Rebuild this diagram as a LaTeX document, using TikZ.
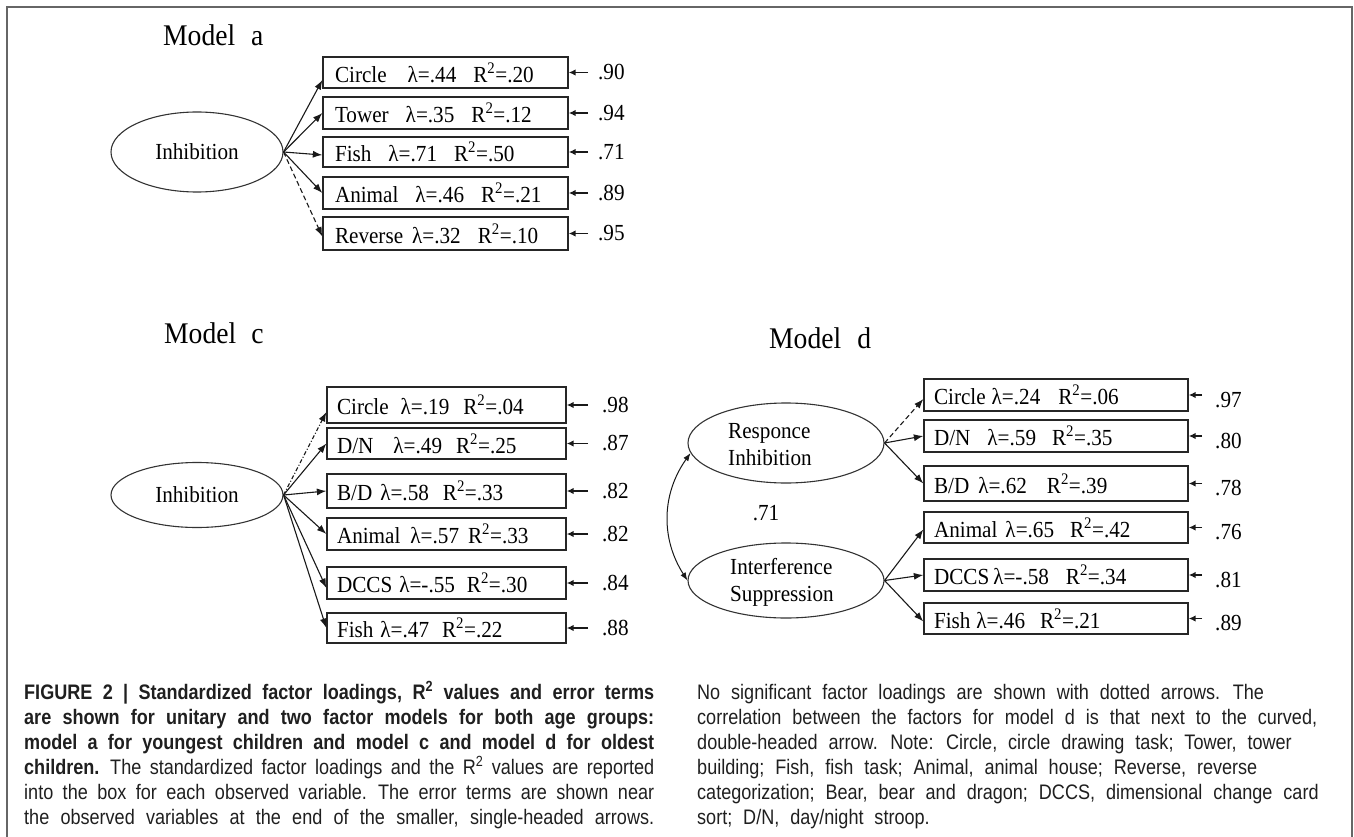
\documentclass[tikz,border=0pt]{standalone}
\usepackage{fontspec}
\setmainfont[FakeStretch=0.92]{Liberation Serif}
\newfontfamily\capfont[FakeStretch=0.86]{Liberation Sans}
\usetikzlibrary{arrows.meta,shapes.geometric}
\newcommand\gapx[1]{\hspace{#1pt}}
\newcommand\Rsq{R\textsuperscript{2}}
\begin{document}
\begin{tikzpicture}[x=1pt,y=-1pt,
  dtext/.style={font=\fontsize{23}{26}\selectfont},
  obs/.style={draw=black!85, line width=1.3pt, rectangle, inner ysep=0pt,
    dtext, align=left},
  obsa/.style={obs, text width=221pt, inner xsep=12pt},
  obsc/.style={obs, text width=219pt, inner xsep=10pt},
  obsd/.style={obs, text width=244pt, inner xsep=10pt},
  lat/.style={draw=black!80, line width=1.1pt, ellipse, inner sep=0pt, dtext},
  lattxt/.style={font=\fontsize{23}{27}\selectfont, align=left, inner sep=0pt},
  load/.style={-{Latex[length=9.5pt,width=7pt]}, line width=1.1pt, black!90},
  nsload/.style={load, dash pattern=on 5pt off 3pt},
  nsloadc/.style={load, dash pattern=on 4pt off 2pt on 1pt off 2pt},
  err/.style={-{Latex[length=7pt,width=6.5pt]}, line width=1.6pt, black!90},
  errlab/.style={dtext, anchor=west, inner ysep=0pt},
  ttl/.style={font=\fontsize{30}{34}\selectfont, anchor=base west, inner sep=0pt},
  dbl/.style={{Latex[length=8pt,width=6pt]}-{Latex[length=8pt,width=6pt]}, line width=1pt, black!90}
]
\useasboundingbox (0,0) rectangle (1354,837);
% frame
\draw[black!60, line width=2pt] (6.5,837) -- (6.5,7.5) -- (1352,7.5) -- (1352,837);

% ---------- Model a ----------
\node[ttl] (ta) at (163,46) {Model\gapx{16}a};
\node[lat, minimum width=172pt, minimum height=80pt] (fa) at (197,152) {Inhibition};
\node[obsa, minimum height=31pt] (a1) at (445.5,72.5) {Circle\gapx{21}λ=.44\gapx{17}\Rsq=.20};
\node[obsa, minimum height=32pt] (a2) at (445.5,113) {Tower\gapx{17}λ=.35\gapx{17}\Rsq=.12};
\node[obsa, minimum height=30pt] (a3) at (445.5,152) {Fish\gapx{17}λ=.71\gapx{17}\Rsq=.50};
\node[obsa, minimum height=32pt] (a4) at (445.5,193) {Animal\gapx{17}λ=.46\gapx{17}\Rsq=.21};
\node[obsa, minimum height=33pt] (a5) at (445.5,233.5) {Reverse\gapx{9}λ=.32\gapx{17}\Rsq=.10};
\draw[load] (fa.east) -- ([yshift=-7.5pt]a1.west);
\draw[load] (fa.east) -- (a2.west);
\draw[load] (fa.east) -- ([yshift=-3pt]a3.west);
\draw[load] (fa.east) -- (a4.west);
\draw[nsload] (fa.east) -- ([yshift=-3pt]a5.west);
\foreach \n/\v in {1/.90,2/.94,3/.71,4/.89,5/.95}{
  \node[errlab, inner xsep=10pt] (ea\n) at (588,0 |- a\n.east) {\v};
  \draw[err] (ea\n.west) -- (a\n.east);
}

% ---------- Model c ----------
\node[ttl] (tc) at (164,343) {Model\gapx{15}c};
\node[lat, minimum width=172pt, minimum height=65pt] (fc) at (197,495) {Inhibition};
\node[obsc, minimum height=36pt] (c1) at (446.5,405) {Circle\gapx{12}λ=.19\gapx{14}\Rsq=.04};
\node[obsc, minimum height=31pt] (c2) at (446.5,443.5) {D/N\gapx{20}λ=.49\gapx{14}\Rsq=.25};
\node[obsc, minimum height=34pt] (c3) at (446.5,491) {B/D\gapx{8}λ=.58\gapx{14}\Rsq=.33};
\node[obsc, minimum height=32pt] (c4) at (446.5,534) {Animal\gapx{10}λ=.57\gapx{9}\Rsq=.33};
\node[obsc, minimum height=32pt] (c5) at (446.5,583) {DCCS\gapx{7}λ=-.55\gapx{12}\Rsq=.30};
\node[obsc, minimum height=30pt] (c6) at (446.5,628) {Fish\gapx{7}λ=.47\gapx{13}\Rsq=.22};
\draw[nsloadc] (fc.east) -- ([yshift=-7pt]c1.west);
\draw[load] (fc.east) -- (c2.west);
\draw[load] (fc.east) -- (c3.west);
\draw[load] (fc.east) -- (c4.west);
\draw[load] (fc.east) -- ([yshift=-5pt]c5.west);
\draw[load] (fc.east) -- (c6.west);
\foreach \n/\v in {1/.98,2/.87,3/.82,4/.82,5/.84,6/.88}{
  \node[errlab, inner xsep=14pt] (ec\n) at (588,0 |- c\n.east) {\v};
  \draw[err] (ec\n.west) -- (c\n.east);
}

% ---------- Model d ----------
\node[ttl] (td) at (769,348) {Model\gapx{16}d};
\node[lat, minimum width=196pt, minimum height=80pt] (fr) at (786,443) {};
\node[lat, minimum width=196pt, minimum height=75pt] (fi) at (786,580.5) {};
\node[lattxt, anchor=west] (frt) at (728,445) {Responce\\Inhibition};
\node[lattxt, anchor=west] (fit) at (730,582) {Interference\\Suppression};
\node[dtext, inner sep=0pt] (rho) at (766,513) {.71};
\draw[dbl] (fr.186) to[bend right=34] (fi.west);
\node[obsd, minimum height=32pt] (d1) at (1056,395) {Circle\gapx{6}λ=.24\gapx{18}\Rsq=.06};
\node[obsd, minimum height=32pt] (d2) at (1056,436) {D/N\gapx{17}λ=.59\gapx{16}\Rsq=.35};
\node[obsd, minimum height=35pt] (d3) at (1056,483.5) {B/D\gapx{9}λ=.62\gapx{20}\Rsq=.39};
\node[obsd, minimum height=31pt] (d4) at (1056,527.5) {Animal\gapx{8}λ=.65\gapx{16}\Rsq=.42};
\node[obsd, minimum height=32pt] (d5) at (1056,575) {DCCS\gapx{4}λ=-.58\gapx{17}\Rsq=.34};
\node[obsd, minimum height=31pt] (d6) at (1056,618.5) {Fish\gapx{6}λ=.46\gapx{15}\Rsq=.21};
\draw[nsload] (fr.east) -- ([yshift=-4pt]d1.west);
\draw[load] (fr.east) -- (d2.west);
\draw[load] (fr.east) -- (d3.west);
\draw[load] (fi.east) -- ([yshift=-2pt]d4.west);
\draw[load] (fi.east) -- (d5.west);
\draw[load] (fi.east) -- ([yshift=-3pt]d6.west);
\foreach \n/\v in {1/.97,2/.80,3/.78,4/.76,5/.81,6/.89}{
  \node[errlab, inner xsep=13pt] (ed\n) at ([yshift=-5pt]1202,0 |- d\n.east) {\v};
  \draw[err] (d\n.east -| ed\n.west) -- (d\n.east);
}

% ---------- caption ----------
\node[anchor=base west, inner sep=0pt, text=black!88] (capL) at (24,699) {\parbox[t]{630pt}{%
  \capfont\fontsize{21}{25}\selectfont
  \spaceskip=0.45em plus 0.6em minus 0.25em
  \parfillskip=0pt \hyphenpenalty=10000 \exhyphenpenalty=10000
  \textbf{FIGURE 2 | Standardized factor loadings, R\textsuperscript{2} values and error terms\linebreak
  are shown for unitary and two factor models for both age groups:\linebreak
  model a for youngest children and model c and model d for oldest\linebreak
  children.} The standardized factor loadings and the R\textsuperscript{2} values are reported\linebreak
  into the box for each observed variable. The error terms are shown near\linebreak
  the observed variables at the end of the smaller, single-headed arrows.}};
\node[anchor=base west, inner sep=0pt, text=black!88] (capR) at (697,699) {\parbox[t]{650pt}{%
  \capfont\fontsize{21}{25}\selectfont
  \spaceskip=0.52em plus 0.1em minus 0.1em
  \raggedright \hyphenpenalty=10000 \exhyphenpenalty=10000
  No significant factor loadings are shown with dotted arrows. The\\
  correlation between the factors for model d is that next to the curved,\\
  double-headed arrow. Note: Circle, circle drawing task; Tower, tower\\
  building; Fish, fish task; Animal, animal house; Reverse, reverse\\
  categorization; Bear, bear and dragon; DCCS, dimensional change card\\
  sort; D/N, day/night stroop.}};
\end{tikzpicture}
\end{document}
